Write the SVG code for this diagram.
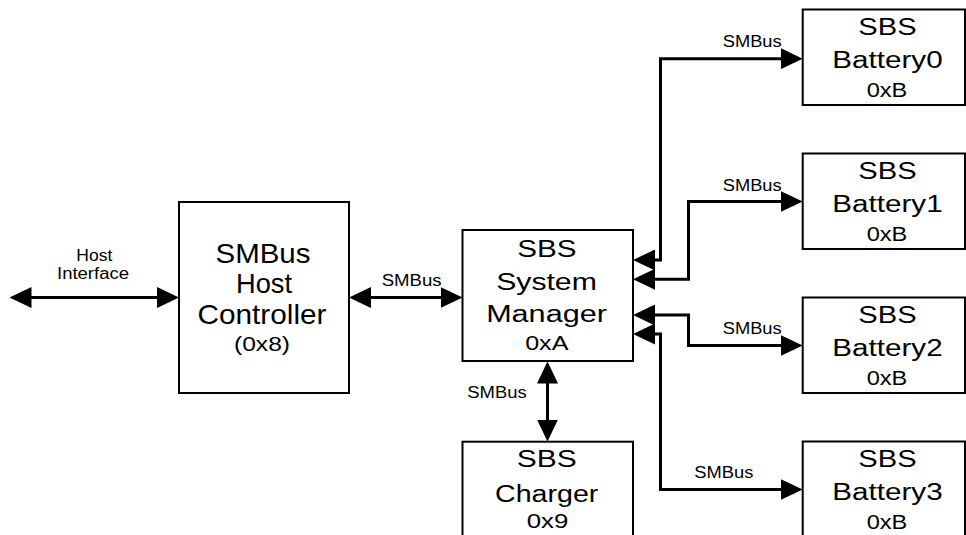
<svg xmlns="http://www.w3.org/2000/svg" width="966" height="535" viewBox="0 0 966 535">
<style>
  .box { fill: #ffffff; stroke: #000000; stroke-width: 2; }
  .con { fill: none; stroke: #000000; stroke-width: 3; stroke-linejoin: miter; marker-start: url(#ah); marker-end: url(#ah); }
  text { font-family: "Liberation Sans", Arial, sans-serif; fill: #000000; text-anchor: middle; }
  .big { font-size: 23.5px; }
  .hc { font-size: 28px; }
  .addr { font-size: 19.5px; }
  .lbl { font-size: 15.6px; }
</style>
<defs>
  <marker id="ah" markerUnits="userSpaceOnUse" markerWidth="22" markerHeight="21" viewBox="0 0 22 21" refX="2" refY="10.5" orient="auto-start-reverse">
    <path d="M0,0 L22,10.5 L0,21 Z" fill="#000000"/>
  </marker>
</defs>
<rect width="966" height="535" fill="#ffffff"/>

<g id="connectors">
  <path class="con" d="M29.5,297.5 H159"/>
  <path class="con" d="M369,297.5 H442.5"/>
  <path class="con" d="M547.5,381.5 V421.5"/>
  <path class="con" d="M653,260 H660.5 V58.7 H782.7"/>
  <path class="con" d="M653,279.3 H688.5 V201.5 H782.7"/>
  <path class="con" d="M653,315 H688.5 V345.5 H782.7"/>
  <path class="con" d="M653,334 H660.5 V489.5 H782.7"/>
  <text class="lbl" x="94.3" y="260.5" textLength="36" lengthAdjust="spacingAndGlyphs">Host</text>
  <text class="lbl" x="93" y="279" textLength="72" lengthAdjust="spacingAndGlyphs">Interface</text>
  <text class="lbl" x="411.7" y="286" textLength="60" lengthAdjust="spacingAndGlyphs">SMBus</text>
  <text class="lbl" x="497" y="398.3" textLength="59.5" lengthAdjust="spacingAndGlyphs">SMBus</text>
  <text class="lbl" x="752.2" y="46.7" textLength="59" lengthAdjust="spacingAndGlyphs">SMBus</text>
  <text class="lbl" x="752.2" y="190.5" textLength="59" lengthAdjust="spacingAndGlyphs">SMBus</text>
  <text class="lbl" x="752.2" y="334.3" textLength="59" lengthAdjust="spacingAndGlyphs">SMBus</text>
  <text class="lbl" x="723.8" y="477.7" textLength="59" lengthAdjust="spacingAndGlyphs">SMBus</text>
</g>

<g id="host-controller">
  <rect class="box" x="179" y="202" width="170" height="191"/>
  <text class="hc" x="263" y="262.5" textLength="95" lengthAdjust="spacingAndGlyphs">SMBus</text>
  <text class="hc" x="264" y="293" textLength="56" lengthAdjust="spacingAndGlyphs">Host</text>
  <text class="hc" x="262" y="323.5" textLength="129" lengthAdjust="spacingAndGlyphs">Controller</text>
  <text class="addr" x="262" y="351" textLength="56" lengthAdjust="spacingAndGlyphs">(0x8)</text>
</g>

<g id="system-manager">
  <rect class="box" x="462.5" y="230" width="170.5" height="131"/>
  <text class="big" x="547" y="257.3" textLength="59.3" lengthAdjust="spacingAndGlyphs">SBS</text>
  <text class="big" x="546.5" y="290" textLength="100.7" lengthAdjust="spacingAndGlyphs">System</text>
  <text class="big" x="546.5" y="321.7" textLength="120.7" lengthAdjust="spacingAndGlyphs">Manager</text>
  <text class="addr" x="546.8" y="350" textLength="43.3" lengthAdjust="spacingAndGlyphs">0xA</text>
</g>

<g id="charger">
  <rect class="box" x="462.5" y="441.7" width="170.5" height="110"/>
  <text class="big" x="546.7" y="466.7" textLength="60" lengthAdjust="spacingAndGlyphs">SBS</text>
  <text class="big" x="546.7" y="501.7" textLength="103.3" lengthAdjust="spacingAndGlyphs">Charger</text>
  <text class="addr" x="547.5" y="528.3" textLength="41.6" lengthAdjust="spacingAndGlyphs">0x9</text>
</g>

<g id="battery0">
  <rect class="box" x="802.7" y="9.5" width="162.3" height="95.5"/>
  <text class="big" x="887.5" y="34.9" textLength="58.3" lengthAdjust="spacingAndGlyphs">SBS</text>
  <text class="big" x="887.5" y="68.2" textLength="110.3" lengthAdjust="spacingAndGlyphs">Battery0</text>
  <text class="addr" x="887" y="97.2" textLength="40.7" lengthAdjust="spacingAndGlyphs">0xB</text>
</g>

<g id="battery1">
  <rect class="box" x="802.7" y="153.5" width="162.3" height="95.5"/>
  <text class="big" x="887.5" y="178.9" textLength="58.3" lengthAdjust="spacingAndGlyphs">SBS</text>
  <text class="big" x="887.5" y="212.2" textLength="110.3" lengthAdjust="spacingAndGlyphs">Battery1</text>
  <text class="addr" x="887" y="241.2" textLength="40.7" lengthAdjust="spacingAndGlyphs">0xB</text>
</g>

<g id="battery2">
  <rect class="box" x="802.7" y="297.5" width="162.3" height="95.5"/>
  <text class="big" x="887.5" y="322.9" textLength="58.3" lengthAdjust="spacingAndGlyphs">SBS</text>
  <text class="big" x="887.5" y="356.2" textLength="110.3" lengthAdjust="spacingAndGlyphs">Battery2</text>
  <text class="addr" x="887" y="385.2" textLength="40.7" lengthAdjust="spacingAndGlyphs">0xB</text>
</g>

<g id="battery3">
  <rect class="box" x="802.7" y="441.5" width="162.3" height="95.5"/>
  <text class="big" x="887.5" y="466.9" textLength="58.3" lengthAdjust="spacingAndGlyphs">SBS</text>
  <text class="big" x="887.5" y="500.2" textLength="110.3" lengthAdjust="spacingAndGlyphs">Battery3</text>
  <text class="addr" x="887" y="529.2" textLength="40.7" lengthAdjust="spacingAndGlyphs">0xB</text>
</g>
</svg>
